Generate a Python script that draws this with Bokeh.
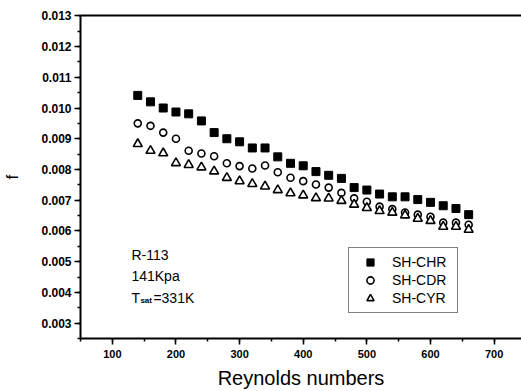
from bokeh.plotting import figure
from bokeh.models import (Range1d, SingleIntervalTicker, PrintfTickFormatter, Legend,
                          LegendItem, Label, LinearAxis, FixedTicker)
from bokeh.embed import file_html
from bokeh.resources import INLINE

reynolds = [140, 160, 180, 200, 220, 240, 260, 280, 300, 320, 340, 360, 380, 400,
            420, 440, 460, 480, 500, 520, 540, 560, 580, 600, 620, 640, 660]
sh_chr = [0.01041, 0.01020, 0.01000, 0.00987, 0.00981, 0.00958, 0.00920, 0.00900, 0.00890,
          0.00870, 0.00870, 0.00841, 0.00820, 0.00812, 0.00793, 0.00781, 0.00771, 0.00741,
          0.00733, 0.00720, 0.00711, 0.00711, 0.00702, 0.00693, 0.00682, 0.00673, 0.00653]
sh_cdr = [0.00950, 0.00942, 0.00920, 0.00900, 0.00861, 0.00852, 0.00843, 0.00820, 0.00811,
          0.00803, 0.00813, 0.00791, 0.00773, 0.00762, 0.00751, 0.00741, 0.00724, 0.00706,
          0.00695, 0.00679, 0.00671, 0.00660, 0.00653, 0.00646, 0.00627, 0.00627, 0.00620]
sh_cyr = [0.00883, 0.00861, 0.00853, 0.00821, 0.00815, 0.00807, 0.00794, 0.00773, 0.00762,
          0.00753, 0.00745, 0.00733, 0.00723, 0.00716, 0.00707, 0.00706, 0.00698, 0.00686,
          0.00675, 0.00665, 0.00660, 0.00651, 0.00640, 0.00633, 0.00614, 0.00614, 0.00604]
series_names = ["SH-CHR", "SH-CDR", "SH-CYR"]
notes = ["R-113", "141Kpa"]
x_title = "Reynolds numbers"
y_title = "f"

FONT = "Liberation Sans"

p = figure(width=521, height=391, output_backend="svg", toolbar_location=None,
           x_range=Range1d(50, 743), y_range=Range1d(0.0025, 0.01301),
           min_border_left=78, min_border_right=0, min_border_top=15, min_border_bottom=53)
p.outline_line_color = None
p.xgrid.visible = False
p.ygrid.visible = False
p.background_fill_color = "white"

p.xaxis.ticker = SingleIntervalTicker(interval=100, num_minor_ticks=2)
p.yaxis.ticker = SingleIntervalTicker(interval=0.001, num_minor_ticks=2)
p.yaxis.formatter = PrintfTickFormatter(format="%.3f")

for ax in (p.xaxis[0], p.yaxis[0]):
    ax.axis_line_width = 2
    ax.axis_line_color = "black"
    ax.major_tick_in = 0
    ax.major_tick_out = 6
    ax.minor_tick_in = 0
    ax.minor_tick_out = 3
    ax.major_tick_line_width = 1.5
    ax.minor_tick_line_width = 1.5
    ax.major_tick_line_color = "black"
    ax.minor_tick_line_color = "black"
    ax.major_label_text_font = FONT
    ax.major_label_text_font_style = "bold"
    ax.major_label_text_color = "black"
    ax.axis_label_text_font = FONT
    ax.axis_label_text_font_style = "normal"
    ax.axis_label_text_color = "black"

p.xaxis.axis_label = x_title
p.xaxis.axis_label_text_font_size = "20px"
p.xaxis.major_label_text_font_size = "11px"
p.xaxis.major_label_standoff = 5
p.xaxis.axis_label_standoff = 6
p.yaxis.axis_label = y_title
p.yaxis.axis_label_text_font_size = "17px"
p.yaxis.major_label_text_font_size = "12px"
p.yaxis.major_label_standoff = 3
p.yaxis.axis_label_standoff = 16

top = LinearAxis(ticker=FixedTicker(ticks=[]), axis_line_width=2, axis_line_color="black",
                 major_tick_line_color=None, minor_tick_line_color=None,
                 major_label_text_font_size="0px")
p.add_layout(top, "above")

r1 = p.scatter(reynolds, sh_chr, marker="square", size=8, fill_color="black", line_color="black")
r2 = p.scatter(reynolds, sh_cdr, marker="circle", size=7, fill_color="white",
               line_color="black", line_width=1.6)
r3 = p.scatter(reynolds, sh_cyr, marker="triangle", size=9, fill_color="white",
               line_color="black", line_width=1.6)

legend = Legend(items=[LegendItem(label=series_names[0], renderers=[r1]),
                       LegendItem(label=series_names[1], renderers=[r2]),
                       LegendItem(label=series_names[2], renderers=[r3])],
                location=(268, 25), margin=0, padding=5, spacing=0,
                glyph_width=32, glyph_height=18, label_height=18, label_width=60,
                label_standoff=6, label_text_font=FONT, label_text_font_size="14px",
                label_text_color="black", border_line_color="black", border_line_width=1.2,
                background_fill_color="white", background_fill_alpha=1)
p.add_layout(legend, "center")

label_kw = dict(text_font=FONT, text_font_size="14px", text_color="black",
                text_baseline="alphabetic")
p.add_layout(Label(x=130, y=0.00522, text=notes[0], **label_kw))
p.add_layout(Label(x=130, y=0.00453, text=notes[1], **label_kw))
p.add_layout(Label(x=130, y=0.00383, text="T", **label_kw))
p.add_layout(Label(x=130, y=0.00383, x_offset=9, y_offset=-3, text="sat",
                   text_font=FONT, text_font_size="8px", text_color="black",
                   text_font_style="bold", text_baseline="alphabetic"))
p.add_layout(Label(x=130, y=0.00383, x_offset=22, text="=331K", **label_kw))

open("out.html", "w").write(file_html(p, INLINE))
